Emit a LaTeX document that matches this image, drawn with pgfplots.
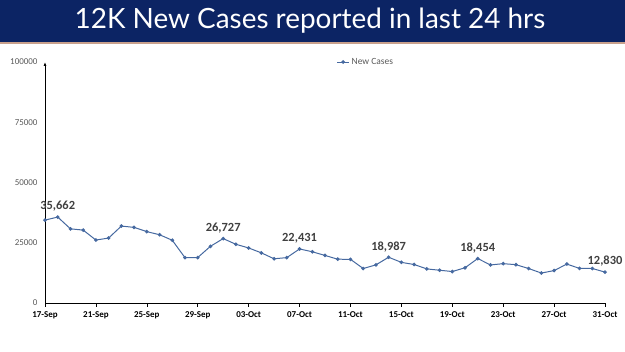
\documentclass[border=0pt]{standalone}
\usepackage{pgfplots}
\pgfplotsset{compat=1.18}
\usepackage{fontspec}
\setmainfont{Carlito}
\newfontfamily\titlefont{Lato}
\usetikzlibrary{arrows.meta}
\definecolor{banner}{RGB}{12,36,100}
\definecolor{bline}{RGB}{200,160,140}
\definecolor{series}{RGB}{70,105,160}
\definecolor{lblgray}{RGB}{64,64,64}
\definecolor{tickgray}{RGB}{89,89,89}
\begin{document}
\begin{tikzpicture}[x=1bp,y=1bp]
\path[use as bounding box] (0,0) rectangle (625,351);
\fill[banner] (0,309) rectangle (625,351);
\fill[bline] (0,307.5) rectangle (625,309);
\node[text=white,font=\titlefont\fontsize{28}{30}\selectfont] at (310,330) {12K New Cases reported in last 24 hrs};
\begin{axis}[
  at={(45bp,48bp)}, anchor=origin,
  scale only axis, width=560bp, height=241bp,
  xmin=0, xmax=44, ymin=0, ymax=100000,
  axis lines=left,
  x axis line style={-, black, line width=0.8pt},
  y axis line style={-{Latex[length=4pt,width=3pt]}, black, line width=0.8pt},
  xtick={0,4,...,44},
  xticklabels={17-Sep,21-Sep,25-Sep,29-Sep,03-Oct,07-Oct,11-Oct,15-Oct,19-Oct,23-Oct,27-Oct,31-Oct},
  x tick label style={font=\bfseries\fontsize{9}{10}\selectfont, text=black, yshift=-1pt},
  x tick style={black, line width=0.5pt},
  xtick align=outside, xtick pos=bottom,
  major tick length=4pt,
  scaled y ticks=false,
  ytick={0,25000,50000,75000,100000},
  yticklabels={0,25000,50000,75000,100000},
  y tick label style={font=\fontsize{9}{10}\selectfont, text=tickgray, xshift=-2bp},
  ytick style={draw=none},
  /pgf/number format/assume math mode=true,
  legend style={at={(0.573,1.0)}, anchor=center, draw=none, fill=none, font=\fontsize{9.5}{10}\selectfont\color{tickgray}, legend cell align=left, inner sep=0pt},
  legend image code/.code={\draw[series, line width=0.9pt] (0bp,0bp) -- (12bp,0bp); \fill[series] (6bp,0bp) circle (1.3bp);},
  clip=false,
]
\addplot[series, line width=1pt, mark=*, mark size=1.3bp, mark options={series}] table {
x y
0 34403
1 35662
2 30773
3 30256
4 26115
5 26964
6 31923
7 31382
8 29616
9 28326
10 26041
11 18795
12 18870
13 23529
14 26727
15 24354
16 22842
17 20799
18 18346
19 18833
20 22431
21 21257
22 19740
23 18166
24 18132
25 14313
26 15823
27 18987
28 16862
29 15981
30 14146
31 13596
32 13058
33 14623
34 18454
35 15786
36 16326
37 15906
38 14306
39 12428
40 13451
41 16156
42 14348
43 14313
44 12830
};
\addlegendentry{New Cases}
\addplot[draw=none, mark=none, nodes near coords, point meta=explicit symbolic,
  every node near coord/.style={font=\bfseries\fontsize{12.5}{14}\selectfont, text=lblgray, anchor=south, yshift=2pt}] table[meta=label] {
x y label
1 35662 35,662
14 26727 26,727
20 22431 22,431
27 18987 18,987
34 18454 18,454
44 12830 12,830
};
\end{axis}
\end{tikzpicture}
\end{document}
